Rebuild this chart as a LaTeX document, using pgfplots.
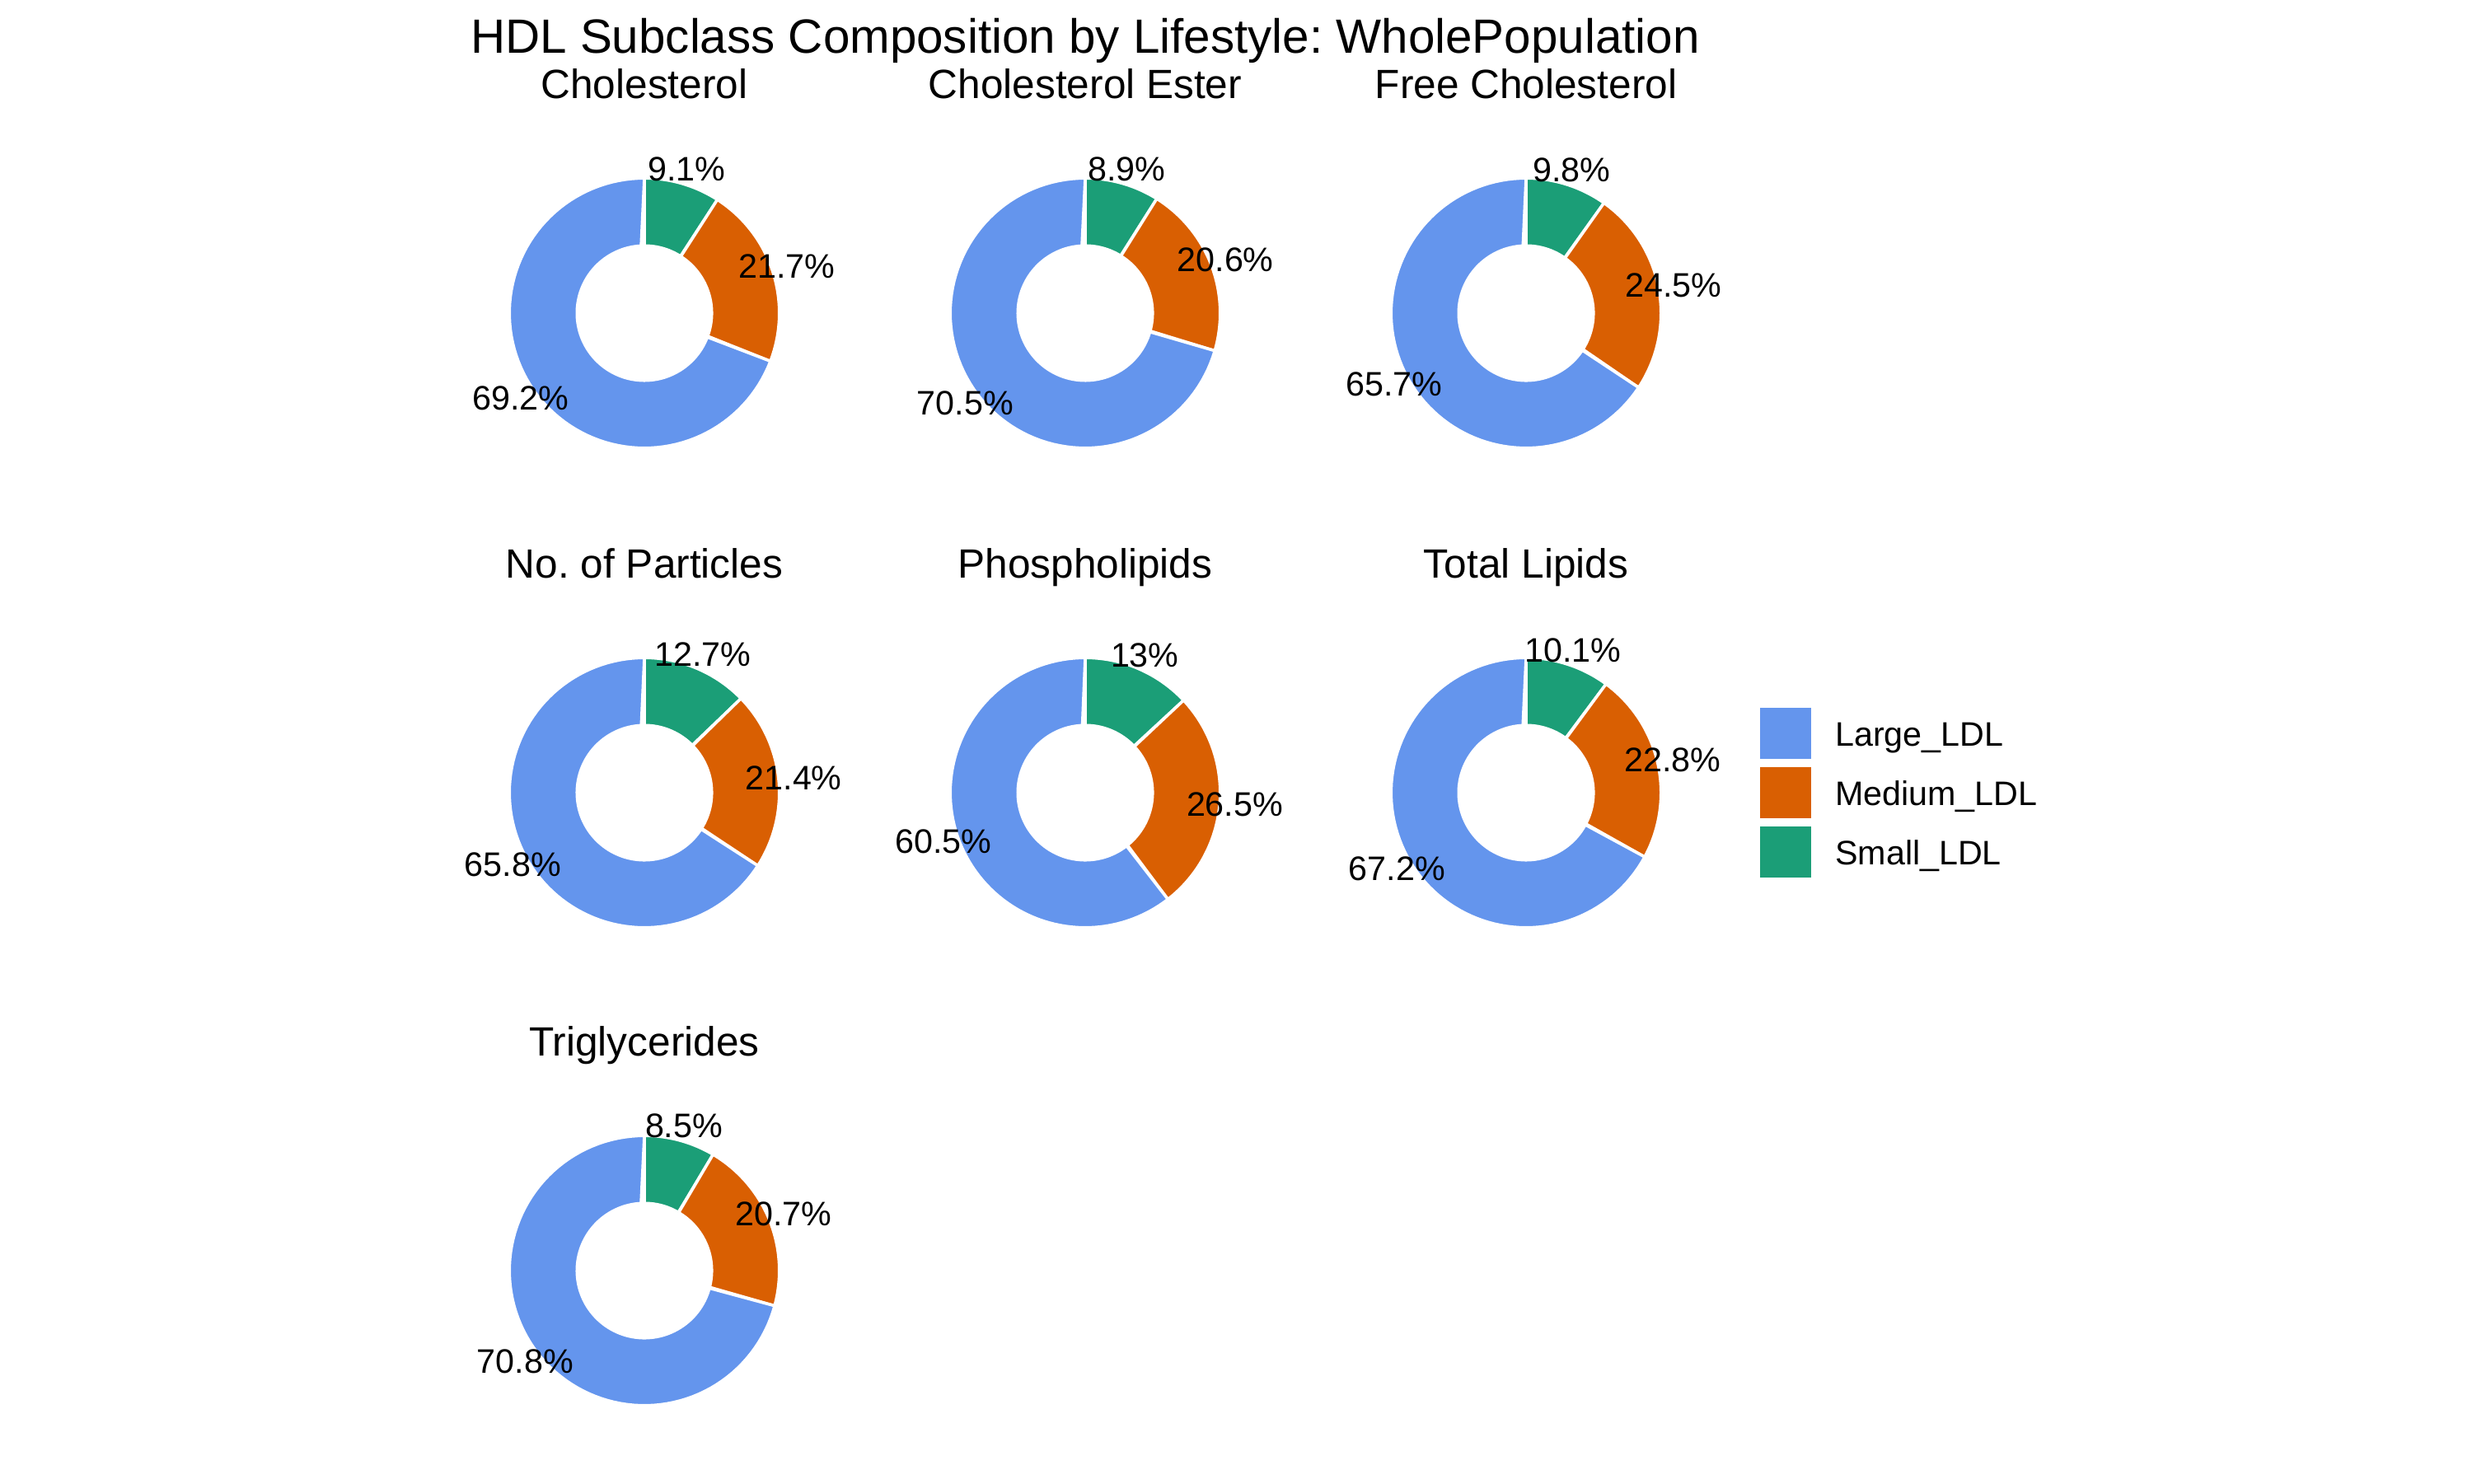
\documentclass[border=0pt]{standalone}
\usepackage{fontspec}
\setmainfont{Liberation Sans}
\usepackage{pgfplots}
\pgfplotsset{compat=1.18}
\frenchspacing
\definecolor{largec}{HTML}{6495ED}
\definecolor{medc}{HTML}{D95F02}
\definecolor{smallc}{HTML}{1B9E77}
\newcommand{\maintitlefont}{\fontsize{14}{16.8}\selectfont}
\newcommand{\stripfont}{\fontsize{11.9}{14}\selectfont}
\newcommand{\labfont}{\fontsize{9.9}{12}\selectfont}
\newcommand{\legfont}{\fontsize{9.9}{12}\selectfont}
% one annular sector from cumulative percent #2 to #3
\newcommand{\seg}[3]{%
\addplot[fill=#1, draw=white, line width=0.85pt, line join=round, samples=181, domain=0:2, variable=\t]
 ({ifthenelse(\t<1.001,39.3,19.62)*sin(3.6*((#2)+((#3)-(#2))*min(\t,2-\t)))},
  {ifthenelse(\t<1.001,39.3,19.62)*cos(3.6*((#2)+((#3)-(#2))*min(\t,2-\t)))}) -- cycle;}
% #1 x, #2 y, #3 title, #4 Small, #5 Medium, #6 Large
\newcommand{\donut}[6]{%
\begin{axis}[at={(#1pt,#2pt)}, anchor=center, hide axis, x=1pt, y=1pt,
  xmin=-50, xmax=50, ymin=-50, ymax=50, clip=false, scale only axis]
\seg{smallc}{0}{#4}
\seg{medc}{#4}{#4+#5}
\seg{largec}{#4+#5}{100}
\node[font=\labfont, inner sep=0pt] at (axis cs:{43.7*sin(3.6*(#4/2))},{43.7*cos(3.6*(#4/2))}) {#4\%};
\node[font=\labfont, inner sep=0pt] at (axis cs:{43.7*sin(3.6*(#4+#5/2))},{43.7*cos(3.6*(#4+#5/2))}) {#5\%};
\node[font=\labfont, inner sep=0pt] at (axis cs:{43.7*sin(3.6*(#4+#5+#6/2))},{43.7*cos(3.6*(#4+#5+#6/2))}) {#6\%};
\node[font=\stripfont, anchor=base, inner sep=0pt] at (axis cs:0,62.4) {#3};
\end{axis}}
\pgfplotsset{legimg/.style={legend image code/.code={\fill[#1, draw=none] (0pt,-3.84pt) rectangle (14.88pt,11.04pt);}}}
\begin{document}
\begin{tikzpicture}
\path[use as bounding box] (0pt,0pt) rectangle (720pt,432pt);
\node[font=\maintitlefont, anchor=base, inner sep=0pt] at (316.08pt,416.4pt) {HDL Subclass Composition by Lifestyle: WholePopulation};
\donut{187.68}{340.8}{Cholesterol}{9.1}{21.7}{69.2}
\donut{316.08}{340.8}{Cholesterol Ester}{8.9}{20.6}{70.5}
\donut{444.48}{340.8}{Free Cholesterol}{9.8}{24.5}{65.7}
\donut{187.68}{201.12}{No. of Particles}{12.7}{21.4}{65.8}
\donut{316.08}{201.12}{Phospholipids}{13}{26.5}{60.5}
\donut{444.48}{201.12}{Total Lipids}{10.1}{22.8}{67.2}
\donut{187.68}{61.92}{Triglycerides}{8.5}{20.7}{70.8}
\begin{axis}[at={(0pt,0pt)}, anchor=south west, hide axis, scale only axis,
  width=720pt, height=432pt, xmin=0, xmax=1, ymin=0, ymax=1, legimg,
  legend style={at={(512.64/720,225.84/432)}, anchor=north west, draw=none, fill=none,
    inner sep=0pt, outer sep=0pt, row sep=2.4pt, column sep=7.0pt, font=\legfont,
    nodes={inner sep=0pt}, cells={anchor=base west}}]
\addlegendimage{fill=largec, draw=none}
\addlegendentry{Large\_LDL}
\addlegendimage{fill=medc, draw=none}
\addlegendentry{Medium\_LDL}
\addlegendimage{fill=smallc, draw=none}
\addlegendentry{Small\_LDL}
\end{axis}
\end{tikzpicture}
\end{document}
